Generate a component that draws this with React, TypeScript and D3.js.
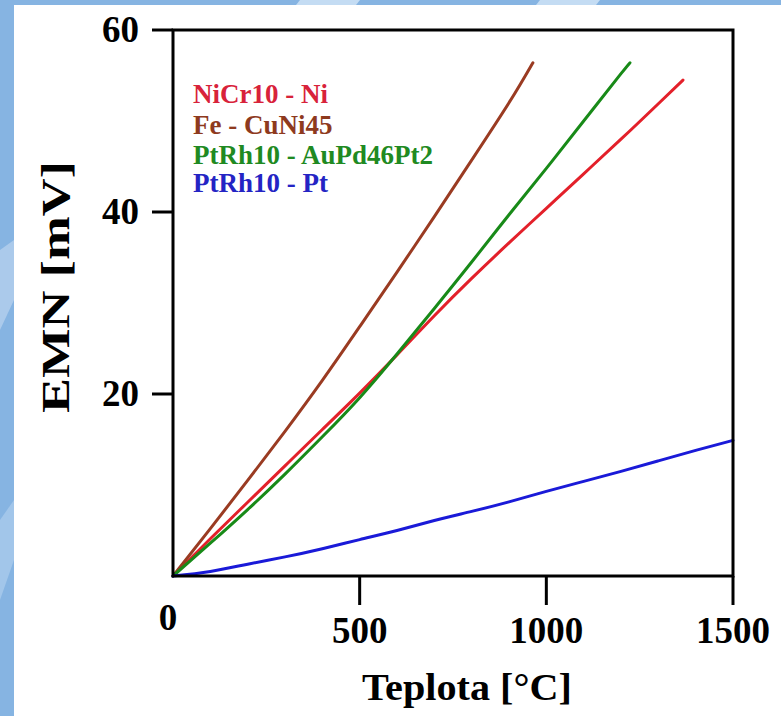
import React from "react";
import * as d3 from "d3";

const W = 781;
const H = 716;

const xTicks = [0, 500, 1000, 1500];
const yTicks = [20, 40, 60];

const seriesNames = ["NiCr10 - Ni", "Fe - CuNi45", "PtRh10 - AuPd46Pt2", "PtRh10 - Pt"];
const seriesColors = ["#e3202a", "#9a3b22", "#188a18", "#1a1ad8"];
const legendColors = ["#d8223a", "#8e3a1e", "#1f8a22", "#2424c4"];

const nicrT = [0, 100, 200, 300, 400, 500, 600, 700, 800, 900, 1000, 1100, 1200, 1300, 1366];
const nicrV = [0, 4.1, 8.1, 12.1, 16.1, 20.1, 24.3, 28.6, 32.7, 36.6, 40.4, 44.2, 48.0, 51.9, 54.5];

const feT = [0, 100, 200, 300, 400, 500, 600, 700, 800, 900, 964];
const feV = [0, 5.2, 10.5, 15.9, 21.5, 27.4, 33.4, 39.5, 45.7, 52.0, 56.4];

const ptauT = [0, 100, 200, 300, 400, 500, 600, 700, 800, 900, 1000, 1100, 1200, 1224];
const ptauV = [0, 3.6, 7.3, 11.2, 15.3, 19.6, 24.4, 29.4, 34.5, 39.7, 44.8, 50.0, 55.2, 56.4];

const ptT = [0, 100, 200, 300, 400, 500, 600, 700, 800, 900, 1000, 1100, 1200, 1300, 1400, 1500];
const ptV = [0, 0.5, 1.3, 2.1, 3.0, 4.0, 5.0, 6.1, 7.1, 8.15, 9.3, 10.4, 11.5, 12.65, 13.8, 14.9];

const allT = [nicrT, feT, ptauT, ptT];
const allV = [nicrV, feV, ptauV, ptV];

const FONT = "Liberation Serif, Tinos, Times New Roman, Nimbus Roman, Times, serif";

export default function App() {
  const left = 173, right = 733, top = 30, bottom = 576;
  const x = d3.scaleLinear().domain([0, 1500]).range([left, right]);
  const y = d3.scaleLinear().domain([0, 60]).range([bottom, top]);
  const line = d3
    .line<[number, number]>()
    .x((d) => x(d[0]))
    .y((d) => y(d[1]))
    .curve(d3.curveNatural);

  const ts = { fontFamily: FONT, fontWeight: 700 as const };

  return (
    <svg
      width={W}
      height={H}
      style={{ position: "absolute", left: 0, top: 0, display: "block" }}
    >
      {/* background frame */}
      <rect x={0} y={0} width={W} height={H} fill="#86b4e2" />
      <polygon points="0,250 0,330 14,300 14,240" fill="#b4d0ee" opacity={0.8} />
      <polygon points="0,520 0,600 14,560 14,500" fill="#a9caec" opacity={0.8} />
      <polygon points="300,0 360,0 356,5 296,5" fill="#c4dcf3" />
      <polygon points="540,0 600,0 596,5 536,5" fill="#c4dcf3" />
      <rect x={14} y={5} width={W - 14} height={H - 5} fill="#ffffff" />

      {/* data lines */}
      {allT.map((tv, i) => (
        <path
          key={i}
          d={line(tv.map((t, j) => [t, allV[i][j]] as [number, number])) || ""}
          fill="none"
          stroke={seriesColors[i]}
          strokeWidth={3}
          strokeLinecap="round"
        />
      ))}

      {/* frame */}
      <rect
        x={left}
        y={top}
        width={right - left}
        height={bottom - top}
        fill="none"
        stroke="#000"
        strokeWidth={3}
      />

      {/* y ticks */}
      {yTicks.map((t) => (
        <g key={"y" + t}>
          <line x1={left - 21} x2={left} y1={y(t)} y2={y(t)} stroke="#000" strokeWidth={3} />
          <text x={139} y={y(t) + 12} textAnchor="end" fontSize={37} fill="#000" style={ts}>
            {t}
          </text>
        </g>
      ))}

      {/* x ticks */}
      {xTicks.map((t) => (
        <g key={"x" + t}>
          {t > 0 && (
            <line x1={x(t)} x2={x(t)} y1={bottom} y2={bottom + 29} stroke="#000" strokeWidth={3} />
          )}
          <text
            x={t === 0 ? x(t) - 5 : x(t)}
            y={t === 0 ? 630 : 643}
            textAnchor="middle"
            fontSize={37}
            fill="#000"
            style={ts}
          >
            {t}
          </text>
        </g>
      ))}

      {/* axis titles */}
      <text
        x={467}
        y={700}
        textAnchor="middle"
        fontSize={37}
        fill="#000"
        style={ts}
        textLength={210}
        lengthAdjust="spacingAndGlyphs"
      >
        Teplota [°C]
      </text>
      <text
        transform={`translate(69, 287) rotate(-90)`}
        textAnchor="middle"
        fontSize={39}
        fill="#000"
        style={ts}
        textLength={252}
        lengthAdjust="spacingAndGlyphs"
      >
        EMN [mV]
      </text>

      {/* legend */}
      {seriesNames.map((n, i) => (
        <text
          key={n}
          x={193}
          y={[103, 134, 164, 192][i]}
          fontSize={27}
          fill={legendColors[i]}
          style={ts}
        >
          {n}
        </text>
      ))}
    </svg>
  );
}
